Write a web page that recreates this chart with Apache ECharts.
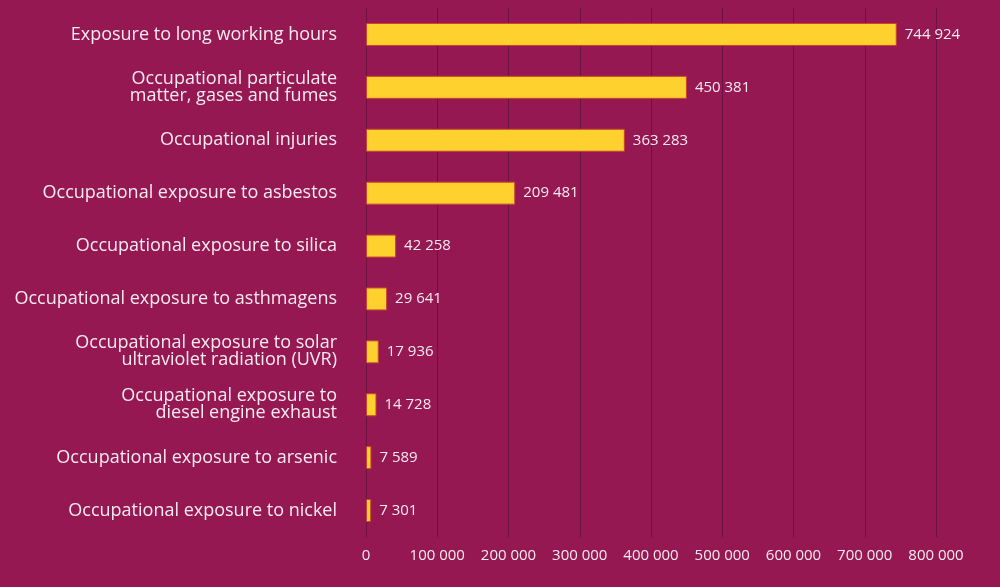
<!DOCTYPE html>
<html>
<head>
<meta charset="utf-8">
<script src="https://cdn.jsdelivr.net/npm/echarts@6/dist/echarts.min.js"></script>
<style>
  html, body { margin: 0; padding: 0; background: #961852; }
  #chart { width: 1000px; height: 587px; }
</style>
</head>
<body>
<div id="chart"></div>
<script>
var categories = [
    'Exposure to long working hours',
    'Occupational particulate\nmatter, gases and fumes',
    'Occupational injuries',
    'Occupational exposure to asbestos',
    'Occupational exposure to silica',
    'Occupational exposure to asthmagens',
    'Occupational exposure to solar\nultraviolet radiation (UVR)',
    'Occupational exposure to\ndiesel engine exhaust',
    'Occupational exposure to arsenic',
    'Occupational exposure to nickel'
];
var deaths = [744924, 450381, 363283, 209481, 42258, 29641, 17936, 14728, 7589, 7301];

// 744924 -> "744 924"
function spaced(v) {
    return String(v).replace(/\B(?=(\d{3})+(?!\d))/g, ' ');
}

var chart = echarts.init(document.getElementById('chart'));
chart.setOption({
    backgroundColor: '#961852',
    textStyle: { fontFamily: 'Open Sans' },
    grid: { left: 366, right: 64, top: 8, bottom: 50 },
    xAxis: {
        type: 'value',
        min: 0,
        max: 800000,
        interval: 100000,
        axisLine: { show: false },
        axisTick: { show: false },
        splitLine: { lineStyle: { color: '#6c1143', width: 1 } },
        axisLabel: {
            color: '#f5eaf0',
            fontSize: 15,
            margin: 11,
            formatter: function (v) { return spaced(v); }
        }
    },
    yAxis: {
        type: 'category',
        inverse: true,
        data: categories,
        axisLine: { show: false },
        axisTick: { show: false },
        axisLabel: {
            color: '#f5eaf0',
            fontSize: 18,
            lineHeight: 17,
            margin: 29
        }
    },
    series: [{
        type: 'bar',
        data: deaths,
        barWidth: 23,
        itemStyle: { color: '#ffd12e', borderColor: '#c8432f', borderWidth: 1 },
        label: {
            show: true,
            position: 'right',
            distance: 8,
            color: '#f5eaf0',
            fontSize: 15,
            formatter: function (p) { return spaced(p.value); }
        }
    }]
});
window.onresize = chart.resize;
</script>
</body>
</html>
